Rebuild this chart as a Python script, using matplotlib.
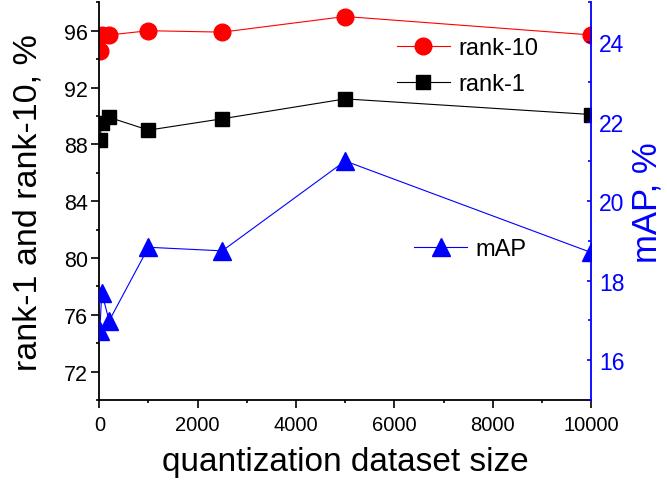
import matplotlib.pyplot as plt
from matplotlib.ticker import MultipleLocator

plt.rcParams['font.family'] = ['Liberation Sans', 'DejaVu Sans']

# quantization dataset size and results
sizes = [10, 50, 200, 1000, 2500, 5000, 10000]
rank10 = [94.6, 95.7, 95.7, 96.0, 95.9, 97.0, 95.7]
rank1 = [88.3, 89.5, 89.9, 89.0, 89.8, 91.2, 90.1]
mAP = [16.74, 17.70, 16.99, 18.84, 18.75, 21.01, 18.71]

fig = plt.figure(figsize=(6.67, 4.85), dpi=100)
ax = fig.add_axes([0.1489, 0.1732, 0.7372, 0.8200])
ax2 = ax.twinx()

l10, = ax.plot(sizes, rank10, '-o', color='red', lw=0.8, ms=12, label='rank-10')
l1, = ax.plot(sizes, rank1, '-s', color='black', lw=0.8, ms=10, label='rank-1')
lm, = ax2.plot(sizes, mAP, '-^', color='blue', lw=0.8, ms=13, label='mAP')

ax.set_xlim(0, 10000)
ax.set_ylim(70, 98)
ax2.set_ylim(15, 25)

ax.xaxis.set_major_locator(MultipleLocator(2000))
ax.xaxis.set_minor_locator(MultipleLocator(1000))
ax.yaxis.set_major_locator(MultipleLocator(4))
ax.yaxis.set_minor_locator(MultipleLocator(2))
ax2.yaxis.set_major_locator(MultipleLocator(2))
ax2.yaxis.set_minor_locator(MultipleLocator(1))
ax.set_yticks([72, 76, 80, 84, 88, 92, 96])

for a in (ax, ax2):
    a.spines['top'].set_visible(False)
ax.spines['right'].set_visible(False)
ax2.spines['left'].set_visible(False)
ax2.spines['bottom'].set_visible(False)
ax2.spines['right'].set_color('blue')
for s in ('left', 'bottom'):
    ax.spines[s].set_linewidth(1.3)
ax2.spines['right'].set_linewidth(1.3)

ax.tick_params(which='major', direction='out', length=5.5, width=1.2, pad=2.5)
ax.tick_params(axis='y', labelsize=15.5)
ax.tick_params(axis='x', labelsize=14.5, pad=5)
ax.tick_params(which='minor', direction='out', length=2.5, width=1.2)
ax2.tick_params(which='major', direction='in', length=3.2, width=1.2, colors='blue',
                labelsize=16.5, pad=6)
ax2.tick_params(which='minor', direction='in', length=2.4, width=1.2, colors='blue')

ax.set_xlabel('quantization dataset size', fontsize=24, labelpad=9)
ax.set_ylabel('rank-1 and rank-10, %', fontsize=24.5, labelpad=15)
ax2.set_ylabel('mAP, %', fontsize=25, color='blue', labelpad=4)

ax.legend(handles=[l10, l1], loc='center left', bbox_to_anchor=(0.605, 0.8400),
          frameon=False, fontsize=17, handlelength=2.25, handletextpad=0.34,
          labelspacing=0.6, borderpad=0, borderaxespad=0)
ax2.legend(handles=[lm], loc='center left', bbox_to_anchor=(0.640, 0.3800),
           frameon=False, fontsize=17, handlelength=2.25, handletextpad=0.34,
           borderpad=0, borderaxespad=0)

fig.savefig('out.png', dpi=100)
